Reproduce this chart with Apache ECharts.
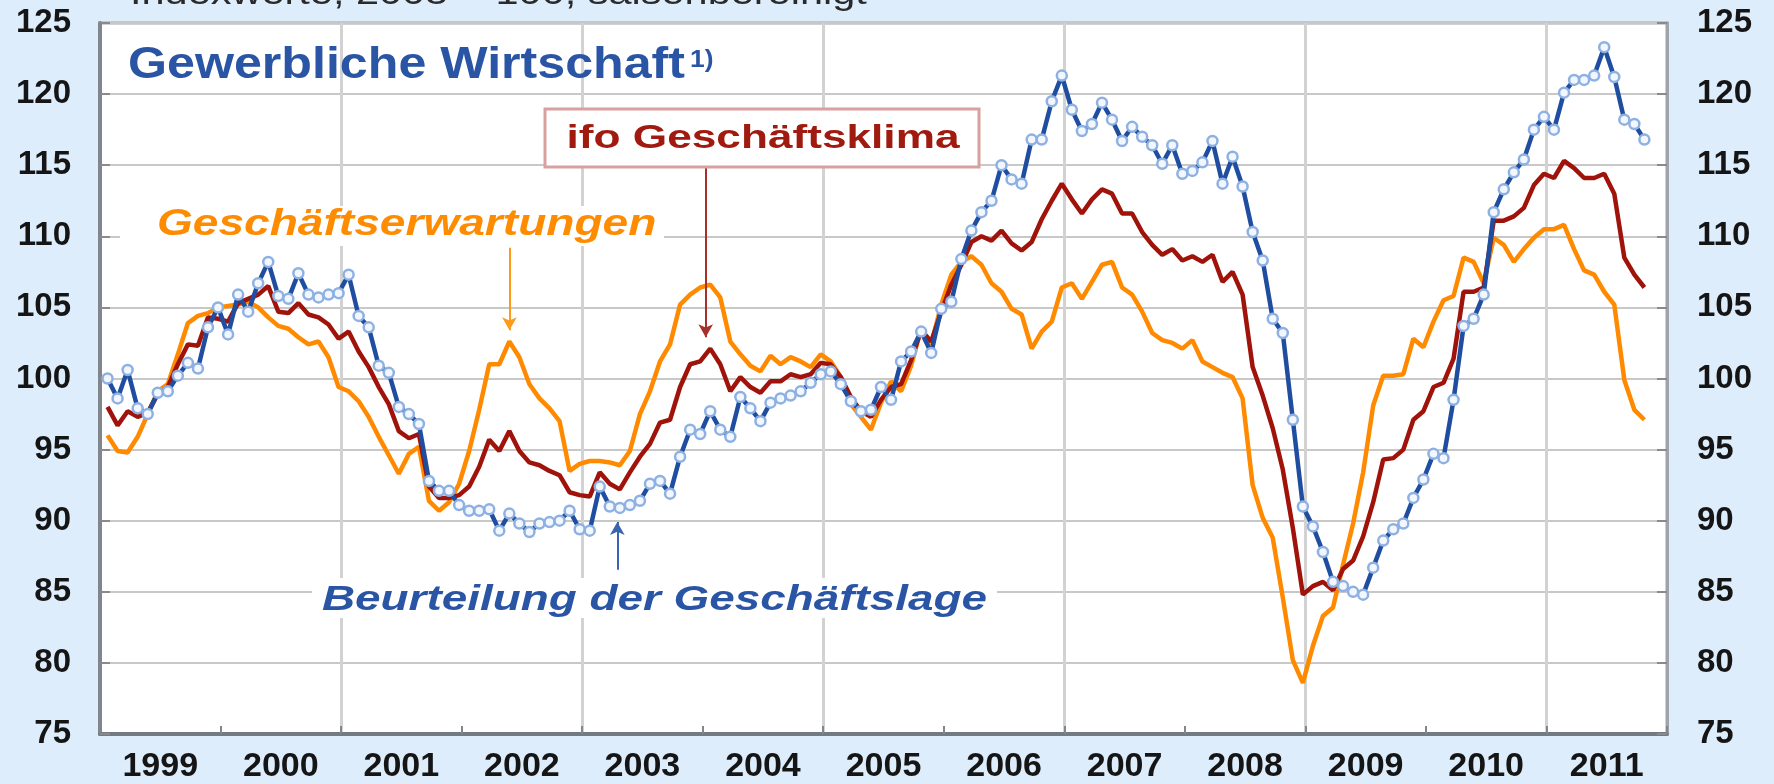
<!DOCTYPE html>
<html>
<head>
<meta charset="utf-8">
<style>
html,body{margin:0;padding:0;background:#deedfc;}
#chart{width:1774px;height:784px;}
</style>
<script src="https://cdn.jsdelivr.net/npm/echarts@6/dist/echarts.min.js"></script>
</head>
<body>
<div id="chart"></div>
<script>
// Year categories (x-axis labels), monthly data Jan 1999 – Oct 2011
const years = ['1999','2000','2001','2002','2003','2004','2005','2006','2007','2008','2009','2010','2011'];

// Beurteilung der Geschäftslage (blue)
const lage = [
 100.0, 98.6, 100.6, 97.9, 97.5, 99.0, 99.1, 100.2, 101.1, 100.7, 103.6, 105.0,
 103.1, 105.9, 104.7, 106.7, 108.2, 105.8, 105.6, 107.4, 105.9, 105.7, 105.9, 106.0,
 107.3, 104.4, 103.6, 100.9, 100.4, 98.0, 97.5, 96.8, 92.8, 92.1, 92.1, 91.1,
 90.7, 90.7, 90.8, 89.3, 90.5, 89.8, 89.2, 89.8, 89.9, 90.0, 90.7, 89.4,
 89.3, 92.4, 91.0, 90.9, 91.1, 91.4, 92.6, 92.8, 91.9, 94.5, 96.4, 96.1,
 97.7, 96.4, 95.9, 98.7, 97.9, 97.0, 98.3, 98.6, 98.8, 99.1, 99.7, 100.3,
 100.5, 99.6, 98.4, 97.7, 97.8, 99.4, 98.5, 101.2, 101.9, 103.3, 101.8, 104.9,
 105.4, 108.4, 110.4, 111.7, 112.5, 115.0, 114.0, 113.7, 116.8, 116.8, 119.5, 121.3,
 118.9, 117.4, 117.9, 119.4, 118.2, 116.7, 117.7, 117.0, 116.4, 115.1, 116.4, 114.4,
 114.6, 115.2, 116.7, 113.7, 115.6, 113.5, 110.3, 108.3, 104.2, 103.2, 97.1, 91.0,
 89.6, 87.8, 85.7, 85.4, 85.0, 84.8, 86.7, 88.6, 89.4, 89.8, 91.6, 92.9,
 94.7, 94.4, 98.5, 103.7, 104.2, 105.9, 111.7, 113.3, 114.5, 115.4, 117.5, 118.4,
 117.5, 120.1, 121.0, 121.0, 121.3, 123.3, 121.2, 118.2, 117.9, 116.8
];

// ifo Geschäftsklima (dark red)
const klima = [
 98.0, 96.7, 97.7, 97.3, 97.6, 98.9, 99.4, 101.0, 102.4, 102.3, 104.3, 104.2,
 104.0, 105.3, 105.6, 105.9, 106.5, 104.7, 104.6, 105.3, 104.5, 104.3, 103.8, 102.8,
 103.3, 101.9, 100.8, 99.4, 98.2, 96.3, 95.8, 96.1, 92.4, 91.6, 91.6, 91.8,
 92.4, 93.8, 95.7, 94.9, 96.3, 94.9, 94.1, 93.9, 93.5, 93.2, 92.0, 91.8,
 91.7, 93.4, 92.6, 92.2, 93.4, 94.5, 95.4, 96.9, 97.1, 99.4, 101.0, 101.2,
 102.1, 101.0, 99.1, 100.1, 99.4, 99.0, 99.8, 99.8, 100.3, 100.1, 100.3, 101.1,
 101.0, 100.1, 98.7, 97.7, 97.3, 98.5, 99.4, 99.6, 101.3, 103.4, 102.6, 104.7,
 106.6, 108.0, 109.6, 110.0, 109.7, 110.4, 109.5, 109.0, 109.6, 111.2, 112.5, 113.7,
 112.6, 111.6, 112.6, 113.3, 113.0, 111.6, 111.6, 110.3, 109.4, 108.7, 109.1, 108.3,
 108.6, 108.2, 108.7, 106.8, 107.5, 105.9, 100.8, 98.8, 96.5, 93.6, 89.5, 84.8,
 85.4, 85.7, 85.1, 86.6, 87.2, 88.9, 91.3, 94.3, 94.4, 95.0, 97.1, 97.7,
 99.4, 99.7, 101.4, 106.1, 106.1, 106.4, 111.1, 111.1, 111.4, 112.0, 113.6, 114.4,
 114.1, 115.3, 114.8, 114.1, 114.1, 114.4, 113.0, 108.5, 107.3, 106.4
];

// Geschäftserwartungen (orange)
const erwartungen = [
 96.0, 94.9, 94.8, 95.9, 97.5, 99.1, 99.6, 101.7, 103.9, 104.4, 104.6, 105.0,
 105.1, 105.2, 105.4, 105.0, 104.3, 103.7, 103.5, 102.9, 102.4, 102.6, 101.5, 99.4,
 99.1, 98.4, 97.3, 95.9, 94.6, 93.3, 94.7, 95.2, 91.4, 90.7, 91.3, 92.6,
 94.9, 97.8, 101.0, 101.0, 102.6, 101.5, 99.6, 98.6, 97.9, 97.0, 93.5, 94.0,
 94.2, 94.2, 94.1, 93.9, 94.9, 97.5, 99.1, 101.2, 102.4, 105.2, 105.9, 106.4,
 106.6, 105.7, 102.6, 101.7, 100.9, 100.5, 101.6, 101.0, 101.5, 101.2, 100.8, 101.7,
 101.2, 100.1, 98.2, 97.3, 96.4, 98.3, 99.8, 99.1, 100.9, 103.5, 102.4, 105.2,
 107.3, 108.2, 108.6, 108.0, 106.7, 106.1, 104.9, 104.5, 102.1, 103.3, 104.0, 106.4,
 106.7, 105.6, 106.8, 108.0, 108.2, 106.4, 105.9, 104.7, 103.2, 102.7, 102.5, 102.1,
 102.7, 101.2, 100.8, 100.4, 100.1, 98.6, 92.5, 90.2, 88.8, 84.6, 80.2, 78.6,
 81.2, 83.3, 83.9, 86.9, 89.8, 93.4, 98.1, 100.2, 100.2, 100.3, 102.8, 102.2,
 104.0, 105.5, 105.8, 108.5, 108.2, 106.7, 109.9, 109.4, 108.2, 109.1, 109.9, 110.5,
 110.5, 110.8, 109.1, 107.6, 107.3, 106.1, 105.2, 99.9, 97.8, 97.1
];

const MONTH_SHIFT = 0.75;            // months are plotted slightly after month start
const toXY = arr => arr.map((v, i) => [i + MONTH_SHIFT, v]);

const FONT = '"Liberation Sans", Arial, sans-serif';
const BLUE = '#1f4ea0', RED = '#a0130a', ORANGE = '#ff8a00';

const chart = echarts.init(document.getElementById('chart'), null, {renderer: 'canvas'});

const yLabel = {color: '#151515', fontSize: 33, fontWeight: 'bold', fontFamily: FONT};

const option = {
  animation: false,
  backgroundColor: '#deedfc',
  grid: {left: 100, right: 107, top: 23, bottom: 47, show: true,
         backgroundColor: '#ffffff', borderColor: '#9ea4aa', borderWidth: 3},
  xAxis: [
    {
      type: 'category', data: years, boundaryGap: true, position: 'bottom',
      axisLine: {show: true, lineStyle: {color: '#737a82', width: 4}},
      axisTick: {show: true, inside: true, length: 8, interval: 0, lineStyle: {color: '#80868c', width: 2}},
      axisLabel: {show: true, interval: 0, margin: 16, color: '#151515', fontSize: 34, fontWeight: 'bold', fontFamily: FONT},
      splitLine: {show: false}
    },
    {
      // month axis used for placing the data; its split lines mark every second year
      type: 'value', min: 0, max: 156, interval: 24, position: 'bottom',
      axisLine: {show: false}, axisTick: {show: false}, axisLabel: {show: false},
      splitLine: {show: true, lineStyle: {color: '#d2d2d2', width: 3}}
    }
  ],
  yAxis: [
    {
      type: 'value', min: 75, max: 125, interval: 5, position: 'left',
      axisLine: {show: true, lineStyle: {color: '#80868c', width: 4}},
      axisTick: {show: true, inside: true, length: 10, lineStyle: {color: '#8a8a8a', width: 2}},
      axisLabel: Object.assign({margin: 29}, yLabel),
      splitLine: {show: true, lineStyle: {color: '#c8c8c8', width: 2}}
    },
    {
      type: 'value', min: 75, max: 125, interval: 5, position: 'right',
      axisLine: {show: true, lineStyle: {color: '#9ea4aa', width: 3}},
      axisTick: {show: true, inside: true, length: 10, lineStyle: {color: '#8a8a8a', width: 2}},
      axisLabel: Object.assign({margin: 30}, yLabel),
      splitLine: {show: false}
    }
  ],
  series: [
    {
      name: 'Geschäftserwartungen', type: 'line', xAxisIndex: 1, yAxisIndex: 0, z: 2,
      data: toXY(erwartungen), showSymbol: false, symbol: 'none',
      lineStyle: {color: ORANGE, width: 4.5}, itemStyle: {color: ORANGE},
      markLine: {
        silent: true, symbol: ['none', 'arrow'], symbolSize: [11, 13],
        label: {show: false}, lineStyle: {type: 'solid', width: 2, color: '#ff9a1a'},
        data: [[{coord: [40.76, 109.2]}, {coord: [40.76, 103.4]}]]
      }
    },
    {
      name: 'ifo Geschäftsklima', type: 'line', xAxisIndex: 1, yAxisIndex: 0, z: 3,
      data: toXY(klima), showSymbol: false, symbol: 'none',
      lineStyle: {color: RED, width: 4.5}, itemStyle: {color: RED},
      markLine: {
        silent: true, symbol: ['none', 'arrow'], symbolSize: [11, 13],
        label: {show: false}, lineStyle: {type: 'solid', width: 2, color: '#a8302a'},
        data: [[{coord: [60.3, 114.9]}, {coord: [60.3, 102.9]}]]
      }
    },
    {
      name: 'Beurteilung der Geschäftslage', type: 'line', xAxisIndex: 1, yAxisIndex: 0, z: 4,
      data: toXY(lage), showSymbol: true, showAllSymbol: true, symbol: 'circle', symbolSize: 10,
      lineStyle: {color: BLUE, width: 4.5},
      itemStyle: {color: '#f2f7fe', borderColor: '#8eb0e2', borderWidth: 2.5},
      markLine: {
        silent: true, symbol: ['none', 'arrow'], symbolSize: [11, 13],
        label: {show: false}, lineStyle: {type: 'solid', width: 2, color: '#3a64b0'},
        data: [[{coord: [51.5, 86.55]}, {coord: [51.5, 89.9]}]]
      }
    }
  ],
  graphic: [
    {type: 'text', x: 130, y: -5, scaleX: 1.22, z: 20,
     style: {text: 'Indexwerte, 2005 = 100, saisonbereinigt', font: '34px ' + FONT, fill: '#2a2a2a', verticalAlign: 'middle'}},
    {type: 'text', x: 128, y: 66, scaleX: 1.14, z: 20,
     style: {text: 'Gewerbliche Wirtschaft', font: 'bold 44px ' + FONT, fill: '#2a55a5', verticalAlign: 'middle'}},
    {type: 'text', x: 690, y: 60, scaleX: 1.1, z: 20,
     style: {text: '1)', font: 'bold 24px ' + FONT, fill: '#2a55a5', verticalAlign: 'middle'}},
    {type: 'rect', z: 19, shape: {x: 545, y: 109, width: 434, height: 58},
     style: {fill: '#ffffff', stroke: '#d9a0a0', lineWidth: 3}},
    {type: 'text', x: 763, y: 139, scaleX: 1.3, z: 20,
     style: {text: 'ifo Geschäftsklima', font: 'bold 34px ' + FONT, fill: '#a01a10', align: 'center', verticalAlign: 'middle'}},
    {type: 'rect', z: 19, shape: {x: 120, y: 206, width: 544, height: 40}, style: {fill: '#ffffff'}},
    {type: 'text', x: 157, y: 225, scaleX: 1.28, z: 20,
     style: {text: 'Geschäftserwartungen', font: 'italic bold 36px ' + FONT, fill: '#ff8c00', verticalAlign: 'middle'}},
    {type: 'rect', z: 19, shape: {x: 312, y: 578, width: 685, height: 40}, style: {fill: '#ffffff'}},
    {type: 'text', x: 322, y: 600, scaleX: 1.31, z: 20,
     style: {text: 'Beurteilung der Geschäftslage', font: 'italic bold 35px ' + FONT, fill: '#2a55a5', verticalAlign: 'middle'}}
  ]
};

chart.setOption(option);
</script>
</body>
</html>
